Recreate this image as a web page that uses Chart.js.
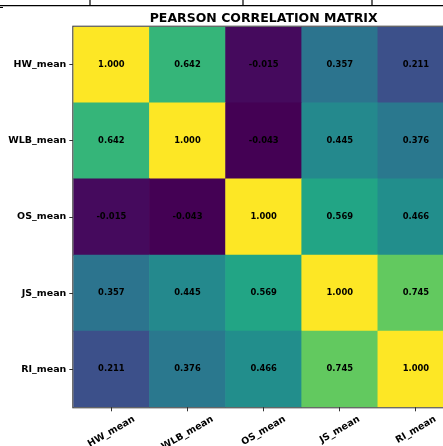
<!DOCTYPE html>
<html>
<head>
<meta charset="utf-8">
<script src="https://cdn.jsdelivr.net/npm/chart.js@4"></script>
<style>
  html, body { margin: 0; padding: 0; background: #fff; overflow: hidden; }
  #wrap { position: relative; width: 470px; height: 446px; }
</style>
</head>
<body>
<div id="wrap"><canvas id="c"></canvas></div>
<script>
// Variables of the correlation matrix (columns left→right, rows top→bottom)
const variables = ['HW_mean', 'WLB_mean', 'OS_mean', 'JS_mean', 'RI_mean'];

// Pearson coefficients, one array per row
const hwRow  = [1.000, 0.642, -0.015, 0.357, 0.211];
const wlbRow = [0.642, 1.000, -0.043, 0.445, 0.376];
const osRow  = [-0.015, -0.043, 1.000, 0.569, 0.466];
const jsRow  = [0.357, 0.445, 0.569, 1.000, 0.745];
const riRow  = [0.211, 0.376, 0.466, 0.745, 1.000];
const rows = [hwRow, wlbRow, osRow, jsRow, riRow];

const chartTitle = 'PEARSON CORRELATION MATRIX';

// Viridis colour ramp
const viridis = ['#440154', '#482475', '#414487', '#355f8d', '#2a788e', '#21918c',
                 '#22a884', '#44bf70', '#7ad151', '#bddf26', '#fde725'];
function hexToRgb(h) { return [1, 3, 5].map(i => parseInt(h.substr(i, 2), 16)); }
const allVals = rows.flat();
const vmin = Math.min(...allVals), vmax = Math.max(...allVals);
function colorFor(v) {
  let t = (v - vmin) / (vmax - vmin);
  t = Math.max(0, Math.min(1, t)) * (viridis.length - 1);
  const i = Math.min(Math.floor(t), viridis.length - 2), f = t - i;
  const a = hexToRgb(viridis[i]), b = hexToRgb(viridis[i + 1]);
  const c = a.map((x, k) => Math.round(x + (b[k] - x) * f));
  return `rgb(${c[0]},${c[1]},${c[2]})`;
}

// One stacked dataset per row; the bottom row is stacked first
const datasets = rows.map((row, r) => ({
  label: variables[r],
  data: row.map(() => 1),
  values: row,
  backgroundColor: row.map(colorFor),
  borderWidth: 0,
  categoryPercentage: 1.0,
  barPercentage: 1.0
})).reverse();

const rowLabelsFromBottom = variables.slice().reverse();
const tickFont = { family: '"DejaVu Sans"', size: 9.5, weight: 'bold' };

// Title, cell annotations, centred rotated column labels, frame
const decorPlugin = {
  id: 'decor',
  beforeDraw(chart) {
    const ctx = chart.ctx;
    ctx.save();
    ctx.strokeStyle = '#000';
    ctx.lineWidth = 1.2;
    ctx.beginPath();
    ctx.moveTo(0, 5.7); ctx.lineTo(chart.width, 5.7);
    [90, 243, 372].forEach(x => { ctx.moveTo(x, 0); ctx.lineTo(x, 5.7); });
    ctx.moveTo(0, 7.5); ctx.lineTo(3, 7.5);
    ctx.stroke();
    ctx.restore();
  },
  afterDraw(chart) {
    const ctx = chart.ctx, a = chart.chartArea;
    ctx.save();
    // title centred over the plot area
    ctx.font = 'bold 12.5px "DejaVu Sans"';
    ctx.fillStyle = '#000';
    ctx.textAlign = 'center';
    ctx.textBaseline = 'alphabetic';
    ctx.fillText(chartTitle, (a.left + a.right) / 2, 22);

    // cell annotations
    ctx.font = 'bold 8.4px "DejaVu Sans"';
    ctx.textBaseline = 'middle';
    chart.data.datasets.forEach((ds, di) => {
      const meta = chart.getDatasetMeta(di);
      meta.data.forEach((bar, i) => {
        const p = bar.getProps(['x', 'y', 'base'], true);
        ctx.fillText(ds.values[i].toFixed(3), p.x, (p.y + p.base) / 2);
      });
    });

    // column labels, rotated 30° and centred on their ticks
    const xs = chart.scales.x;
    const ang = Math.PI / 6;
    ctx.font = 'bold 9.5px "DejaVu Sans"';
    const h = 11;
    variables.forEach((lab, i) => {
      const w = ctx.measureText(lab).width;
      const H = w * Math.sin(ang) + h * Math.cos(ang);
      const cx = xs.getPixelForTick(i);
      const cy = a.bottom + 4 + 2.5 + H / 2;
      ctx.save();
      ctx.translate(cx, cy);
      ctx.rotate(-ang);
      ctx.textAlign = 'center';
      ctx.textBaseline = 'middle';
      ctx.fillText(lab, 0, 0);
      ctx.restore();
    });

    // spines
    ctx.strokeStyle = '#333';
    ctx.lineWidth = 1;
    ctx.strokeRect(a.left - 0.5, a.top - 0.5, a.right - a.left + 1, a.bottom - a.top + 1);
    ctx.restore();
  }
};

new Chart(document.getElementById('c'), {
  type: 'bar',
  data: { labels: variables, datasets },
  options: {
    responsive: true,
    maintainAspectRatio: false,
    animation: false,
    layout: { padding: { left: 0, right: 16, top: 26.7, bottom: 0 } },
    plugins: {
      legend: { display: false },
      tooltip: { enabled: false },
      title: { display: false }
    },
    scales: {
      x: {
        stacked: true,
        offset: true,
        grid: { display: true, drawOnChartArea: false, drawTicks: true, tickLength: 4, color: '#333', offset: false },
        border: { display: false },
        ticks: { display: false, autoSkip: false },
        afterFit(axis) { axis.height = 38.7; }
      },
      y: {
        stacked: true,
        min: 0, max: 5,
        grid: { display: true, drawOnChartArea: false, drawTicks: true, tickLength: 4, color: '#333' },
        border: { display: false },
        afterBuildTicks(axis) {
          axis.ticks = [0.5, 1.5, 2.5, 3.5, 4.5].map(v => ({ value: v }));
        },
        ticks: {
          color: '#000',
          font: tickFont,
          padding: 3,
          callback: v => rowLabelsFromBottom[Math.floor(v)]
        },
        afterFit(axis) { axis.width = 73.3; }
      }
    }
  },
  plugins: [decorPlugin]
});
</script>
</body>
</html>
